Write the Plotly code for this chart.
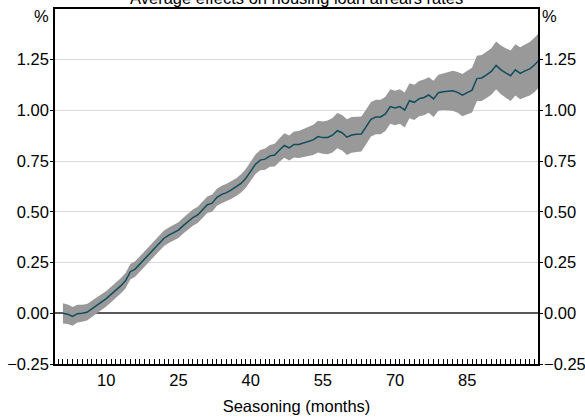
import plotly.graph_objects as go

# ---- data ----
months = list(range(1, 101))
effect = [
    0.000, -0.005, -0.015, -0.002, 0.000, 0.005, 0.022, 0.038, 0.058, 0.072,
    0.093, 0.113, 0.135, 0.160, 0.205, 0.218, 0.243, 0.270, 0.298, 0.322,
    0.346, 0.370, 0.385, 0.398, 0.410, 0.432, 0.452, 0.472, 0.485, 0.512,
    0.535, 0.543, 0.572, 0.586, 0.595, 0.608, 0.622, 0.640, 0.665, 0.700,
    0.735, 0.755, 0.760, 0.776, 0.780, 0.805, 0.827, 0.815, 0.832, 0.832,
    0.840, 0.848, 0.855, 0.871, 0.866, 0.867, 0.878, 0.900, 0.890, 0.868,
    0.879, 0.882, 0.884, 0.920, 0.956, 0.968, 0.968, 0.983, 1.019, 1.012,
    1.019, 1.002, 1.048, 1.040, 1.058, 1.064, 1.076, 1.057, 1.087, 1.092,
    1.095, 1.097, 1.089, 1.075, 1.088, 1.100, 1.157, 1.160, 1.175, 1.192,
    1.222, 1.200, 1.185, 1.171, 1.200, 1.183, 1.195, 1.205, 1.225, 1.250,
]
ci_half = [
    0.050, 0.048, 0.046, 0.044, 0.042, 0.041, 0.040, 0.039, 0.038, 0.038,
    0.038, 0.038, 0.038, 0.038, 0.038, 0.038, 0.038, 0.038, 0.038, 0.038,
    0.038, 0.038, 0.038, 0.039, 0.039, 0.039, 0.040, 0.040, 0.040, 0.041,
    0.041, 0.042, 0.042, 0.043, 0.043, 0.044, 0.044, 0.045, 0.046, 0.047,
    0.048, 0.050, 0.052, 0.054, 0.056, 0.058, 0.060, 0.062, 0.064, 0.066,
    0.069, 0.072, 0.075, 0.078, 0.080, 0.083, 0.085, 0.087, 0.088, 0.088,
    0.088, 0.087, 0.086, 0.085, 0.085, 0.085, 0.085, 0.085, 0.085, 0.085,
    0.085, 0.086, 0.086, 0.087, 0.087, 0.088, 0.088, 0.089, 0.089, 0.090,
    0.095, 0.098, 0.101, 0.104, 0.107, 0.110, 0.112, 0.113, 0.114, 0.115,
    0.118, 0.120, 0.122, 0.124, 0.126, 0.128, 0.130, 0.132, 0.134, 0.135,
]
y_tickvals = [-0.25, 0.00, 0.25, 0.50, 0.75, 1.00, 1.25]
y_ticktext = ["−0.25", "0.00", "0.25", "0.50", "0.75", "1.00", "1.25"]
title_text = "Average effects on housing loan arrears rates"
x_title = "Seasoning (months)"

upper = [e + h for e, h in zip(effect, ci_half)]
lower = [e - h for e, h in zip(effect, ci_half)]

FONT = "Liberation Sans, Arial, sans-serif"
FS = 16.5
fig = go.Figure()
fig.add_trace(go.Scatter(x=months, y=upper, mode="lines", line=dict(width=0),
                         hoverinfo="skip", showlegend=False))
fig.add_trace(go.Scatter(x=months, y=lower, mode="lines", line=dict(width=0),
                         fill="tonexty", fillcolor="#999999",
                         hoverinfo="skip", showlegend=False))
fig.add_trace(go.Scatter(x=months, y=effect, mode="lines",
                         line=dict(color="#0d4d5e", width=1.5), showlegend=False))
# invisible trace to make the right-hand axis render
fig.add_trace(go.Scatter(x=months, y=effect, yaxis="y2", mode="lines",
                         line=dict(width=0), opacity=0, hoverinfo="skip",
                         showlegend=False))

yax_common = dict(range=[-0.25, 1.5], tickmode="array", tickvals=y_tickvals,
                  ticktext=y_ticktext, automargin=False,
                  ticks="outside", ticklen=3, tickcolor="#000", tickwidth=1,
                  ticklabelstandoff=-2,
                  showline=True, linecolor="#000", linewidth=1.5,
                  tickfont=dict(family=FONT, size=FS, color="#000"))

fig.update_layout(
    width=585, height=419,
    margin=dict(l=55, r=47, t=9, b=55),
    paper_bgcolor="white", plot_bgcolor="white",
    font=dict(family=FONT, size=FS, color="#000"),
    xaxis=dict(range=[-0.65, 99.7], tickmode="linear", tick0=10, dtick=15,
               automargin=False,
               ticks="inside", ticklen=5, tickcolor="#000", tickwidth=1,
               minor=dict(dtick=1, tick0=0, ticks="inside", ticklen=5,
                          tickcolor="#000", tickwidth=1, showgrid=False),
               showline=True, linecolor="#000", linewidth=1.5, mirror=True,
               showgrid=False, zeroline=False,
               tickfont=dict(family=FONT, size=FS, color="#000"),
               title=dict(text=x_title, font=dict(family=FONT, size=FS, color="#000"),
                          standoff=13)),
    yaxis=dict(**yax_common, side="left", showgrid=True, gridcolor="#d9d9d9",
               gridwidth=1, zeroline=True, zerolinecolor="#595959",
               zerolinewidth=1.5),
    yaxis2=dict(**yax_common, side="right", overlaying="y", showgrid=False,
                zeroline=False),
    annotations=[
        dict(text=title_text, xref="paper", yref="paper", x=0.5, y=1.0,
             xanchor="center", yanchor="bottom", showarrow=False, yshift=0,
             font=dict(family=FONT, size=FS, color="#000")),
        dict(text="%", xref="paper", yref="paper", x=0, y=1.0, xanchor="right",
             yanchor="middle", showarrow=False, xshift=-4, yshift=-7,
             font=dict(family=FONT, size=FS, color="#000")),
        dict(text="%", xref="paper", yref="paper", x=1, y=1.0, xanchor="left",
             yanchor="middle", showarrow=False, xshift=2, yshift=-7,
             font=dict(family=FONT, size=FS, color="#000")),
    ],
)
fig.write_html("out.html", config={"displayModeBar": False},
               post_script="document.body.style.margin='0';"
                           "document.body.style.overflow='hidden';")
